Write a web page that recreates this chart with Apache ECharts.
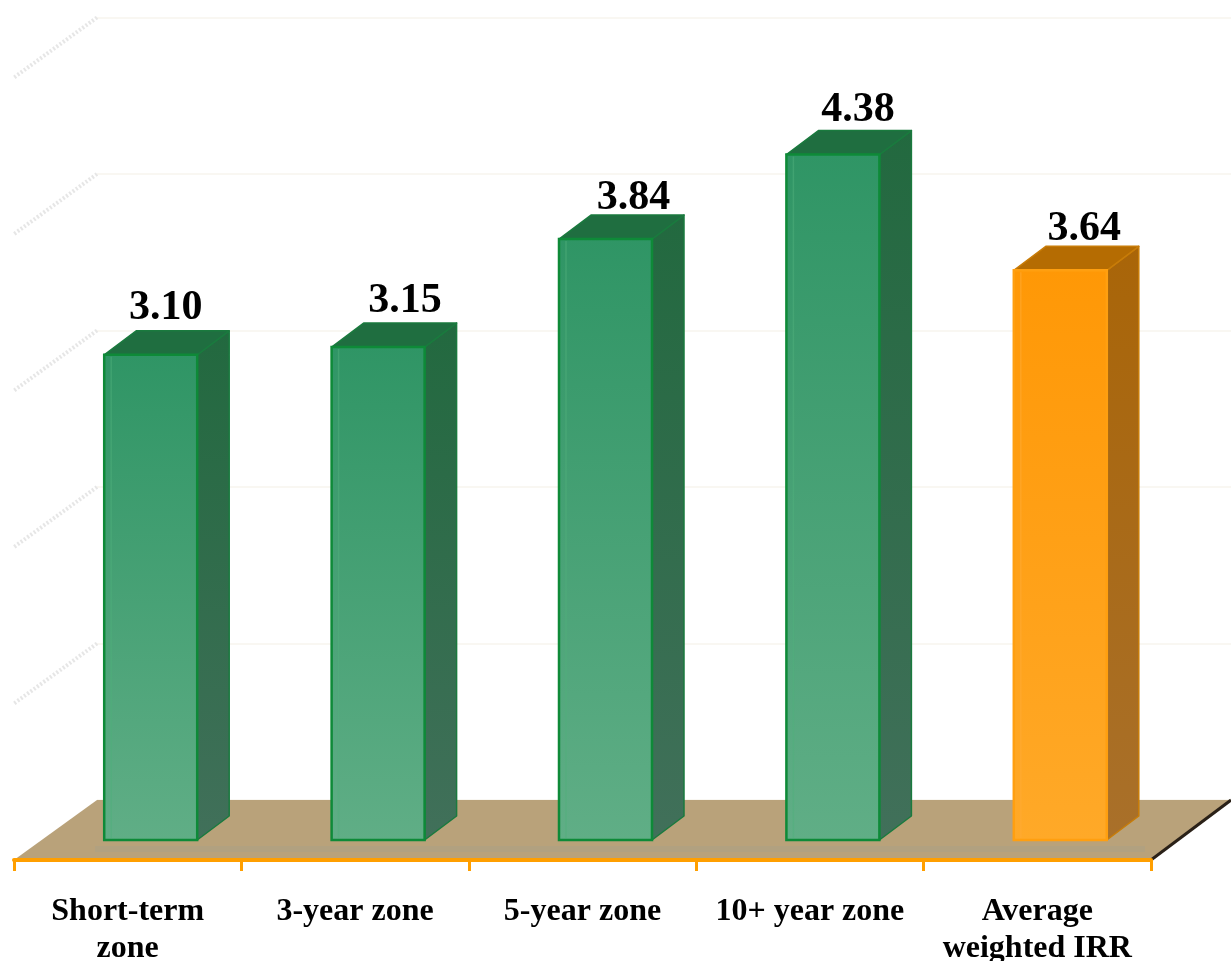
<!DOCTYPE html>
<html>
<head>
<meta charset="utf-8">
<style>html,body{margin:0;padding:0;background:#fff}#c{width:1231px;height:961px}</style>
<script src="https://cdn.jsdelivr.net/npm/echarts@6/dist/echarts.min.js"></script>
</head>
<body>
<div id="c"></div>
<script>
const categories = ['Short-term\nzone', '3-year zone', '5-year zone', '10+ year zone', 'Average\nweighted IRR'];
const values = [3.10, 3.15, 3.84, 4.38, 3.64];
const valueLabels = ['3.10', '3.15', '3.84', '4.38', '3.64'];
const wallTicks = [1, 2, 3, 4, 5];

const labelDx = [15, 27, 28, 25, 24];
const labelDy = [-47, -46, -41, -44, -41];
const FONT = '"Liberation Serif","Times New Roman",serif';
const palettes = {
  green: {front: ['#2f9565', '#60ae86'], side: ['#22693f', '#41705a'], top: '#1f6e40', edge: '#0e8a38', sideEdge: '#1a7a3e', inner: '#4fb07c'},
  orange: {front: ['#ff9806', '#ffa928'], side: ['#a96508', '#a9702a'], top: '#b56c02', edge: '#ff9f10', sideEdge: '#c87c08', inner: '#ffae38'}
};
const grad = (a, b) => new echarts.graphic.LinearGradient(0, 0, 0, 1, [{offset: 0, color: a}, {offset: 1, color: b}]);

function renderBar(params, api) {
  const i = api.value(0), v = api.value(1);
  const top = api.coord([i, v]), base = api.coord([i, 0]);
  const cx = top[0] + 23, w = 93, dx = 32, dy = 24;
  const L = cx - w / 2, R = cx + w / 2, T = top[1], B = base[1];
  const p = i === 4 ? palettes.orange : palettes.green;
  return {
    type: 'group',
    children: [
      {type: 'polygon', shape: {points: [[R, T], [R + dx, T - dy], [R + dx, B - dy], [R, B]]},
        style: {fill: grad(p.side[0], p.side[1]), stroke: p.sideEdge, lineWidth: 1.5, lineJoin: 'round'}},
      {type: 'polygon', shape: {points: [[L, T], [L + dx, T - dy], [R + dx, T - dy], [R, T]]},
        style: {fill: p.top, stroke: p.sideEdge, lineWidth: 1.5, lineJoin: 'round'}},
      {type: 'rect', shape: {x: L, y: T, width: w, height: B - T},
        style: {fill: grad(p.front[0], p.front[1]), stroke: p.edge, lineWidth: 2.5}},
      {type: 'line', shape: {x1: L + 7, y1: T + 2, x2: L + 7, y2: B - 2},
        style: {stroke: p.inner, lineWidth: 1.5, opacity: 0.5}},
      {type: 'text', style: {
        text: valueLabels[i], x: cx + labelDx[i], y: T + labelDy[i],
        align: 'center', verticalAlign: 'middle',
        font: 'bold 42px ' + FONT, fill: '#000'}}
    ]
  };
}

function renderFloor(params, api) {
  const c = params.coordSys;
  const back = api.coord([0, 0])[1];
  const front = back + 60, leftF = 14, rightF = 1151;
  return {
    type: 'group',
    children: [
      {type: 'polygon', shape: {points: [[c.x, back], [c.x + c.width, back], [rightF, front], [leftF, front]]},
        style: {fill: '#b9a27a'}},
      {type: 'rect', shape: {x: 95, y: front - 14, width: 1050, height: 6},
        style: {fill: '#aca084', opacity: 0.6}},
      {type: 'line', shape: {x1: rightF, y1: front, x2: c.x + c.width, y2: back},
        style: {stroke: '#2a2118', lineWidth: 3}}
    ]
  };
}

function renderDiagonal(params, api) {
  const p = api.coord([0, api.value(1)]);
  return {
    type: 'line',
    shape: {x1: p[0], y1: p[1], x2: p[0] - 83, y2: p[1] + 60},
    style: {stroke: '#e0e0e0', lineWidth: 4, lineDash: [2, 2], opacity: 0.8}
  };
}

const chart = echarts.init(document.getElementById('c'), null, {renderer: 'canvas'});
chart.setOption({
  animation: false,
  backgroundColor: '#fff',
  grid: [
    {left: 14, right: 80, top: 57.5, height: 782.5, outerBoundsMode: 'none', containLabel: false},
    {left: 97, right: 0, top: 17.5, height: 782.5, outerBoundsMode: 'none', containLabel: false}
  ],
  xAxis: [
    {type: 'category', gridIndex: 0, data: categories, offset: 20,
      axisLine: {show: true, onZero: false, lineStyle: {color: '#ff9f00', width: 4}},
      axisTick: {show: true, length: 11, inside: false, lineStyle: {color: '#ff9f00', width: 3}},
      axisLabel: {interval: 0, margin: 33, fontFamily: FONT, fontWeight: 'bold', fontSize: 32, lineHeight: 37, color: '#000'},
      splitLine: {show: false}, z: 20},
    {type: 'value', gridIndex: 1, min: 0, max: 1, show: false}
  ],
  yAxis: [
    {type: 'value', gridIndex: 0, min: 0, max: 5, interval: 1, show: false},
    {type: 'value', gridIndex: 1, min: 0, max: 5, interval: 1,
      axisLine: {show: false}, axisTick: {show: false}, axisLabel: {show: false},
      splitLine: {show: true, lineStyle: {color: '#f7f4ee', width: 1.5}}}
  ],
  series: [
    {type: 'custom', name: 'wall', xAxisIndex: 1, yAxisIndex: 1, z: 1, silent: true,
      data: wallTicks.map(t => [0, t]), encode: {x: 0, y: 1}, renderItem: renderDiagonal, clip: false},
    {type: 'custom', name: 'floor', xAxisIndex: 1, yAxisIndex: 1, z: 2, silent: true,
      data: [[0, 0]], encode: {x: 0, y: 1}, renderItem: renderFloor, clip: false},
    {type: 'custom', name: 'IRR', xAxisIndex: 0, yAxisIndex: 0, z: 30,
      data: values.map((v, i) => [i, v]), encode: {x: 0, y: 1}, renderItem: renderBar, clip: false}
  ]
});
</script>
</body>
</html>
